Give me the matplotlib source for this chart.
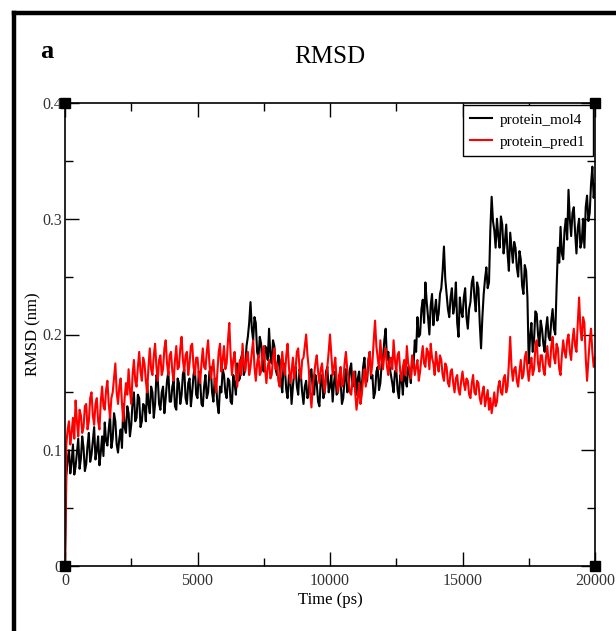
#!/usr/bin/env python3
"""
RMSD of protein_mol4 vs protein_pred1 over 20 ns (grace-style plot)
"""

import numpy as np
import matplotlib
matplotlib.use("Agg")
import matplotlib.pyplot as plt
from matplotlib.lines import Line2D
from matplotlib.ticker import FixedLocator, FuncFormatter

plt.rcParams['font.family'] = ['Liberation Serif', 'DejaVu Serif']

# time axis, one reading every 50 ps
time_ps = np.arange(0, 20001, 50)

# protein_mol4 (black), values, one row per ns
rmsd_mol4 = [
    0.000, 0.078, 0.092, 0.100, 0.080, 0.090, 0.105, 0.079, 0.086, 0.098, 0.110, 0.084, 0.093, 0.112, 0.102, 0.082, 0.088, 0.104, 0.115, 0.090,
    0.096, 0.108, 0.120, 0.092, 0.100, 0.112, 0.087, 0.098, 0.112, 0.095, 0.124, 0.108, 0.104, 0.118, 0.130, 0.102, 0.110, 0.132, 0.125, 0.105,
    0.098, 0.110, 0.118, 0.102, 0.140, 0.120, 0.115, 0.138, 0.132, 0.112, 0.122, 0.142, 0.150, 0.125, 0.128, 0.148, 0.145, 0.120, 0.125, 0.140,
    0.138, 0.125, 0.158, 0.140, 0.132, 0.155, 0.150, 0.128, 0.140, 0.165, 0.162, 0.140, 0.135, 0.150, 0.155, 0.132, 0.145, 0.160, 0.168, 0.142,
    0.142, 0.155, 0.160, 0.138, 0.135, 0.162, 0.158, 0.140, 0.148, 0.166, 0.170, 0.145, 0.140, 0.158, 0.162, 0.138, 0.150, 0.165, 0.172, 0.148,
    0.145, 0.168, 0.160, 0.140, 0.138, 0.155, 0.165, 0.145, 0.150, 0.168, 0.172, 0.150, 0.142, 0.162, 0.158, 0.140, 0.132, 0.155, 0.150, 0.170,
    0.165, 0.150, 0.145, 0.162, 0.160, 0.142, 0.140, 0.165, 0.158, 0.148, 0.175, 0.160, 0.162, 0.180, 0.185, 0.165, 0.170, 0.190, 0.198, 0.210,
    0.228, 0.205, 0.195, 0.215, 0.210, 0.185, 0.180, 0.198, 0.192, 0.172, 0.168, 0.190, 0.188, 0.178, 0.205, 0.182, 0.175, 0.195, 0.190, 0.170,
    0.165, 0.182, 0.178, 0.158, 0.150, 0.175, 0.170, 0.152, 0.145, 0.165, 0.162, 0.140, 0.155, 0.168, 0.172, 0.155, 0.148, 0.170, 0.165, 0.150,
    0.140, 0.155, 0.160, 0.145, 0.150, 0.168, 0.170, 0.152, 0.148, 0.165, 0.158, 0.142, 0.138, 0.160, 0.165, 0.145, 0.150, 0.168, 0.172, 0.150,
    0.155, 0.165, 0.142, 0.158, 0.168, 0.148, 0.150, 0.165, 0.160, 0.140, 0.145, 0.162, 0.170, 0.150, 0.152, 0.170, 0.175, 0.155, 0.158, 0.168,
    0.148, 0.162, 0.168, 0.150, 0.155, 0.172, 0.180, 0.158, 0.160, 0.178, 0.185, 0.162, 0.165, 0.145, 0.150, 0.168, 0.172, 0.152, 0.158, 0.175,
    0.180, 0.195, 0.205, 0.178, 0.185, 0.172, 0.165, 0.158, 0.150, 0.168, 0.170, 0.152, 0.145, 0.165, 0.162, 0.148, 0.175, 0.160, 0.155, 0.172,
    0.168, 0.158, 0.180, 0.172, 0.195, 0.185, 0.215, 0.198, 0.200, 0.222, 0.230, 0.210, 0.245, 0.228, 0.215, 0.200, 0.225, 0.235, 0.208, 0.220,
    0.230, 0.212, 0.218, 0.235, 0.240, 0.255, 0.276, 0.248, 0.235, 0.222, 0.215, 0.232, 0.240, 0.218, 0.225, 0.245, 0.210, 0.198, 0.232, 0.220,
    0.215, 0.232, 0.240, 0.215, 0.205, 0.222, 0.228, 0.245, 0.250, 0.232, 0.220, 0.245, 0.240, 0.210, 0.188, 0.215, 0.235, 0.248, 0.258, 0.240,
    0.245, 0.290, 0.319, 0.298, 0.290, 0.275, 0.300, 0.285, 0.275, 0.302, 0.295, 0.270, 0.280, 0.295, 0.270, 0.255, 0.288, 0.275, 0.262, 0.280,
    0.275, 0.258, 0.250, 0.272, 0.265, 0.242, 0.235, 0.260, 0.255, 0.232, 0.175, 0.198, 0.210, 0.185, 0.195, 0.220, 0.218, 0.200, 0.190, 0.212,
    0.205, 0.192, 0.185, 0.205, 0.215, 0.198, 0.195, 0.212, 0.222, 0.205, 0.200, 0.240, 0.275, 0.262, 0.293, 0.270, 0.265, 0.290, 0.300, 0.282,
    0.325, 0.300, 0.285, 0.305, 0.310, 0.288, 0.270, 0.292, 0.300, 0.275, 0.280, 0.300, 0.275, 0.310, 0.320, 0.298, 0.305, 0.330, 0.345, 0.318,
    0.330,
]

# protein_pred1 (red)
rmsd_pred1 = [
    0.000, 0.105, 0.118, 0.125, 0.105, 0.115, 0.128, 0.110, 0.143, 0.125, 0.112, 0.135, 0.130, 0.115, 0.120, 0.138, 0.140, 0.118, 0.125, 0.145,
    0.150, 0.130, 0.122, 0.140, 0.145, 0.125, 0.118, 0.142, 0.155, 0.138, 0.135, 0.152, 0.160, 0.140, 0.128, 0.145, 0.150, 0.162, 0.175, 0.150,
    0.140, 0.155, 0.162, 0.140, 0.125, 0.145, 0.158, 0.148, 0.170, 0.152, 0.140, 0.165, 0.178, 0.160, 0.155, 0.172, 0.185, 0.168, 0.160, 0.180,
    0.175, 0.160, 0.150, 0.172, 0.188, 0.170, 0.165, 0.182, 0.192, 0.172, 0.160, 0.178, 0.182, 0.165, 0.170, 0.188, 0.195, 0.175, 0.165, 0.182,
    0.185, 0.168, 0.160, 0.178, 0.190, 0.170, 0.172, 0.188, 0.198, 0.178, 0.168, 0.182, 0.185, 0.165, 0.175, 0.190, 0.192, 0.172, 0.165, 0.180,
    0.180, 0.165, 0.158, 0.175, 0.188, 0.172, 0.170, 0.185, 0.195, 0.175, 0.162, 0.170, 0.178, 0.160, 0.150, 0.168, 0.185, 0.192, 0.168, 0.178,
    0.190, 0.170, 0.175, 0.195, 0.210, 0.182, 0.165, 0.178, 0.185, 0.168, 0.155, 0.170, 0.178, 0.165, 0.192, 0.175, 0.168, 0.180, 0.185, 0.165,
    0.172, 0.185, 0.195, 0.172, 0.160, 0.175, 0.182, 0.165, 0.168, 0.185, 0.190, 0.170, 0.158, 0.172, 0.178, 0.162, 0.165, 0.180, 0.188, 0.170,
    0.175, 0.160, 0.155, 0.172, 0.185, 0.170, 0.165, 0.182, 0.192, 0.172, 0.158, 0.168, 0.180, 0.162, 0.170, 0.185, 0.188, 0.170, 0.162, 0.178,
    0.180, 0.190, 0.200, 0.182, 0.170, 0.150, 0.137, 0.155, 0.165, 0.175, 0.182, 0.168, 0.158, 0.170, 0.175, 0.160, 0.150, 0.162, 0.172, 0.185,
    0.200, 0.182, 0.165, 0.172, 0.180, 0.160, 0.150, 0.165, 0.172, 0.155, 0.158, 0.175, 0.185, 0.170, 0.162, 0.150, 0.148, 0.160, 0.168, 0.150,
    0.135, 0.145, 0.158, 0.140, 0.148, 0.162, 0.170, 0.155, 0.165, 0.178, 0.185, 0.165, 0.175, 0.195, 0.212, 0.190, 0.180, 0.170, 0.195, 0.178,
    0.170, 0.182, 0.188, 0.172, 0.165, 0.178, 0.180, 0.170, 0.195, 0.178, 0.168, 0.182, 0.185, 0.168, 0.160, 0.172, 0.178, 0.165, 0.190, 0.175,
    0.170, 0.162, 0.182, 0.175, 0.165, 0.172, 0.178, 0.160, 0.168, 0.180, 0.190, 0.175, 0.172, 0.188, 0.185, 0.170, 0.192, 0.180, 0.175, 0.165,
    0.185, 0.175, 0.168, 0.182, 0.178, 0.165, 0.160, 0.175, 0.172, 0.158, 0.155, 0.168, 0.170, 0.158, 0.150, 0.162, 0.165, 0.152, 0.148, 0.160,
    0.168, 0.158, 0.152, 0.162, 0.160, 0.148, 0.145, 0.158, 0.165, 0.150, 0.148, 0.160, 0.158, 0.145, 0.140, 0.150, 0.155, 0.138, 0.145, 0.152,
    0.135, 0.145, 0.132, 0.140, 0.150, 0.138, 0.142, 0.155, 0.160, 0.150, 0.148, 0.162, 0.165, 0.150, 0.155, 0.175, 0.198, 0.172, 0.160, 0.170,
    0.172, 0.160, 0.155, 0.168, 0.178, 0.162, 0.165, 0.180, 0.185, 0.170, 0.160, 0.172, 0.180, 0.165, 0.170, 0.188, 0.195, 0.175, 0.168, 0.182,
    0.182, 0.170, 0.165, 0.180, 0.190, 0.175, 0.172, 0.190, 0.198, 0.180, 0.175, 0.192, 0.188, 0.170, 0.165, 0.182, 0.195, 0.185, 0.180, 0.195,
    0.200, 0.185, 0.178, 0.195, 0.205, 0.190, 0.185, 0.210, 0.232, 0.205, 0.195, 0.215, 0.210, 0.180, 0.160, 0.178, 0.195, 0.205, 0.185, 0.172,
    0.180,
]

series_labels = ['protein_mol4', 'protein_pred1']
x_ticks = [0, 5000, 10000, 15000, 20000]
y_ticks = [0, 0.1, 0.2, 0.3, 0.4]

W, H = 616, 631
fig = plt.figure(figsize=(W / 100, H / 100), dpi=100)
fig.patch.set_facecolor('white')

# thick page frame (left and top edges visible)
fig.add_artist(Line2D([14 / W, 14 / W], [0, 1 - 13 / H], color='black', lw=3.2,
                      transform=fig.transFigure))
fig.add_artist(Line2D([14 / W, 1], [1 - 13 / H, 1 - 13 / H], color='black', lw=3.2,
                      transform=fig.transFigure))

ax = fig.add_axes([65 / W, 1 - 566 / H, 530 / W, 463 / H])

ax.plot(time_ps, rmsd_mol4, color='black', lw=1.5, label=series_labels[0])
ax.plot(time_ps, rmsd_pred1, color='#ff0000', lw=1.5, label=series_labels[1])

ax.set_xlim(0, 20000)
ax.set_ylim(0, 0.4)

ax.xaxis.set_major_locator(FixedLocator(x_ticks))
ax.xaxis.set_minor_locator(FixedLocator([2500, 7500, 12500, 17500]))
ax.yaxis.set_major_locator(FixedLocator(y_ticks))
ax.yaxis.set_minor_locator(FixedLocator([0.05, 0.15, 0.25, 0.35]))
ax.yaxis.set_major_formatter(FuncFormatter(lambda v, p: '0' if v == 0 else f'{v:.1f}'))

ax.tick_params(which='both', direction='in', top=True, right=True, width=1.0,
               labelsize=11.5, labelcolor='#333333')
ax.tick_params(which='major', length=10)
ax.tick_params(which='minor', length=6)
ax.tick_params(axis='x', pad=5)
ax.tick_params(axis='y', pad=2)

for s in ax.spines.values():
    s.set_linewidth(1.2)

ax.set_xlabel('Time (ps)', fontsize=12, labelpad=2)
ax.set_ylabel('RMSD (nm)', fontsize=12, labelpad=1)

# grace corner handles
ax.plot([0, 1, 0, 1], [0, 0, 1, 1], ls='none', marker='s', ms=7, color='black',
        transform=ax.transAxes, clip_on=False, zorder=6)

leg = ax.legend(loc='upper right', fontsize=11, frameon=True, fancybox=False,
                edgecolor='black', framealpha=1, borderaxespad=0.15,
                handlelength=1.4, handletextpad=0.5, borderpad=0.5,
                labelspacing=0.55)
leg.get_frame().set_linewidth(1.0)

fig.text(330 / W, 1 - 63 / H, 'RMSD', ha='center', va='baseline', fontsize=18)
fig.text(47 / W, 1 - 58 / H, 'a', ha='center', va='baseline', fontsize=19,
         fontweight='bold')

fig.savefig('out.png', dpi=100, facecolor='white')
